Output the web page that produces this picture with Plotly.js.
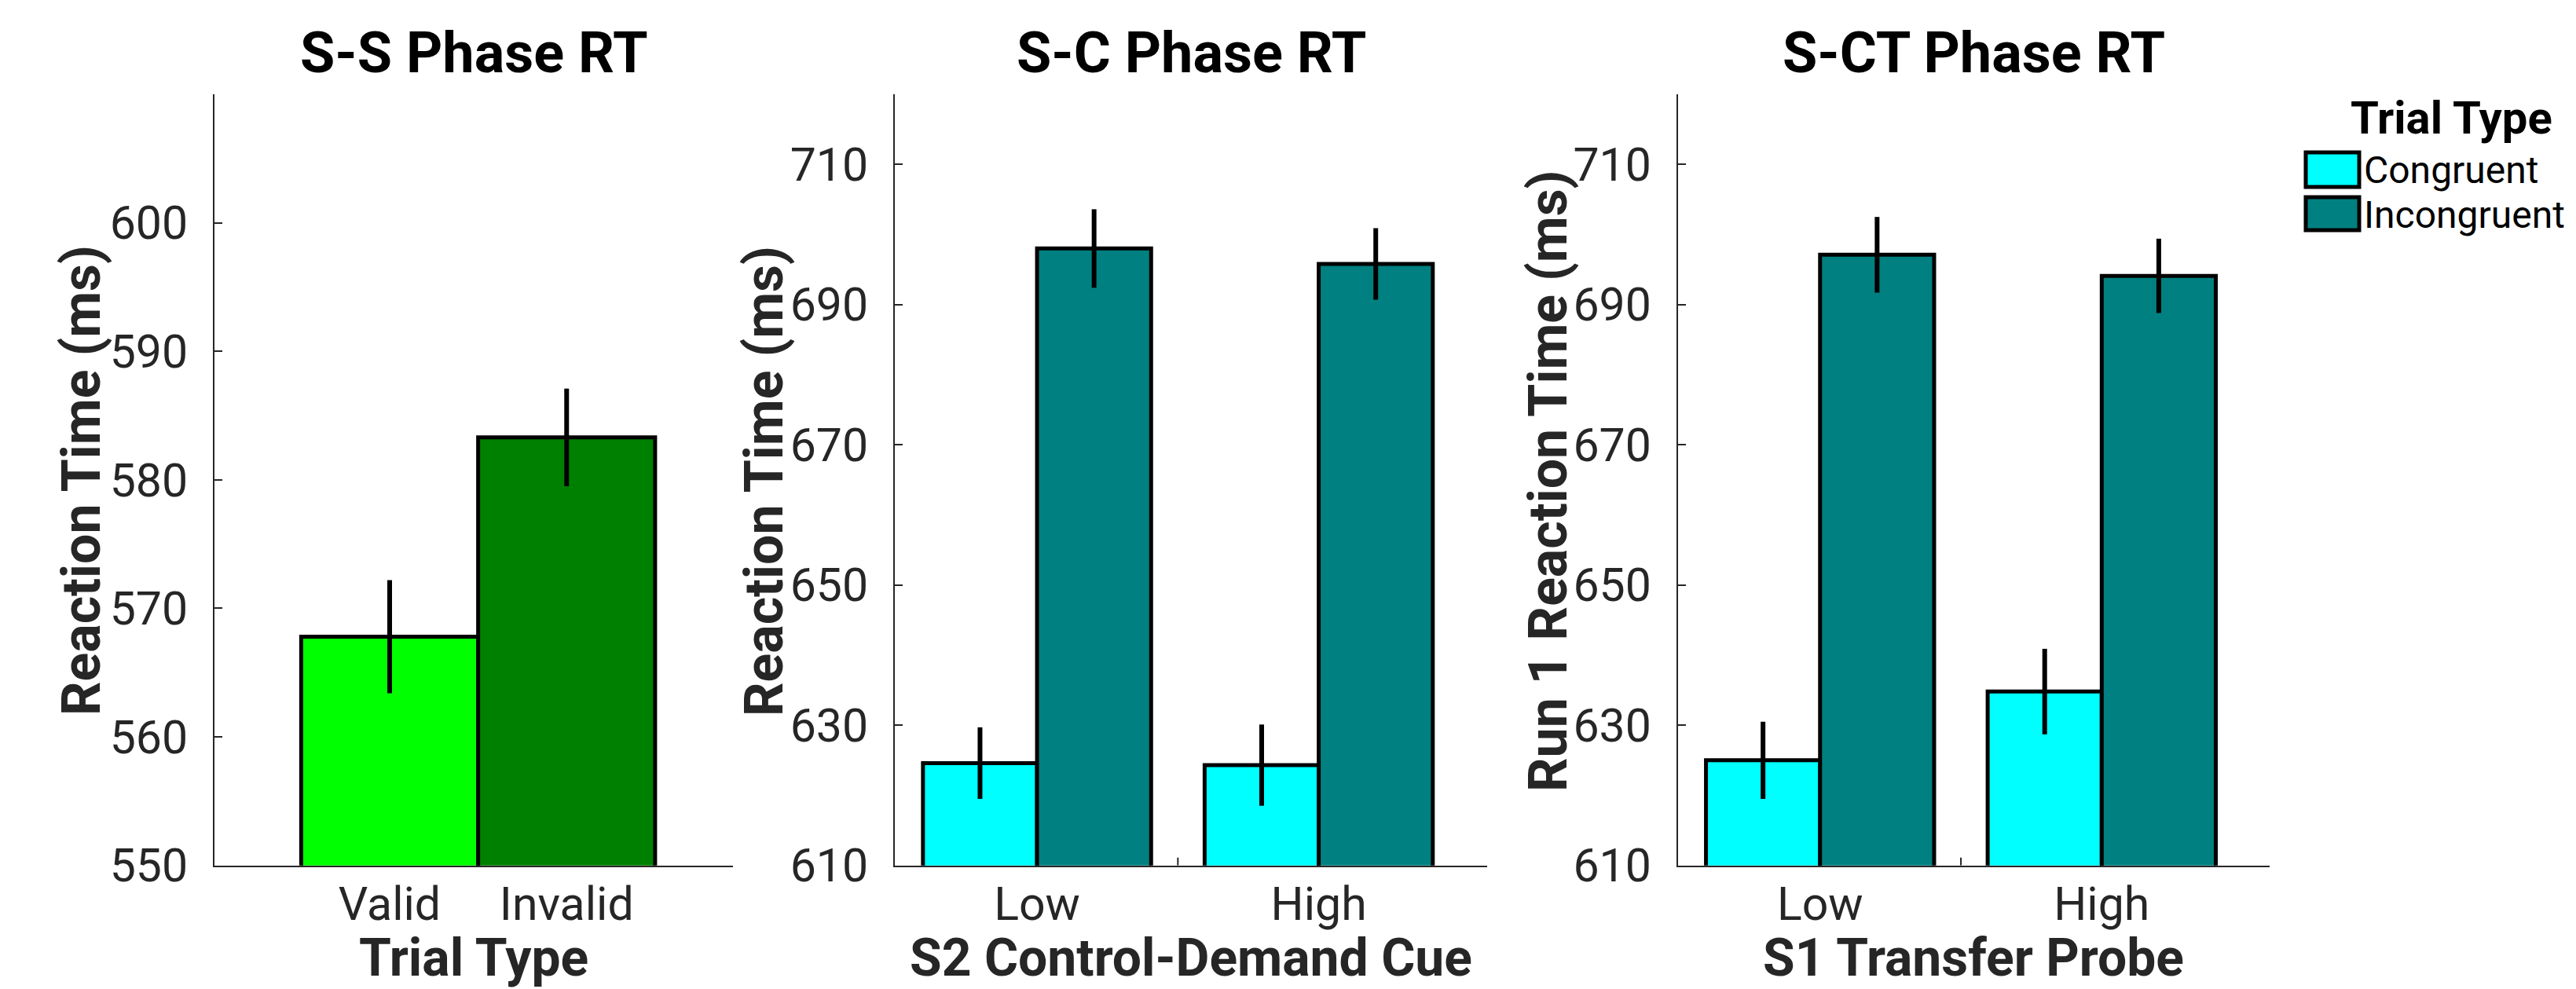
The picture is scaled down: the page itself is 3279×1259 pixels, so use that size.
<!DOCTYPE html>
<html><head><meta charset="utf-8">
<script src="https://cdn.plot.ly/plotly-3.0.1.min.js"></script>
<style>html,body{margin:0;padding:0;background:#fff;overflow:hidden}</style>
</head><body><div id="chart" style="width:3279px;height:1259px"></div>
<script>
// ---- data ----
const ssCategories = ['Valid', 'Invalid'];
const ssMeans = [567.8, 583.3];
const ssErrors = [4.4, 3.8];
const ssColors = ['#00FF00', '#008000'];
const ssTickVals = [550, 560, 570, 580, 590, 600];

const cueLevels = ['Low', 'High'];
const trialTypes = ['Congruent', 'Incongruent'];
const trialColors = ['#00FFFF', '#008080'];
const scCongruent = [624.6, 624.3];
const scCongruentErr = [5.1, 5.8];
const scIncongruent = [698.0, 695.8];
const scIncongruentErr = [5.6, 5.1];
const sctCongruent = [625.0, 634.8];
const sctCongruentErr = [5.5, 6.1];
const sctIncongruent = [697.1, 694.1];
const sctIncongruentErr = [5.4, 5.3];
const rtTickVals = [610, 630, 650, 670, 690, 710];

const panelTitles = ['S-S Phase RT', 'S-C Phase RT', 'S-CT Phase RT'];
const xTitles = ['Trial Type', 'S2 Control-Demand Cue', 'S1 Transfer Probe'];
const yTitles = ['Reaction Time (ms)', 'Reaction Time (ms)', 'Run 1 Reaction Time (ms)'];
const legendTitle = 'Trial Type';

// ---- layout helpers ----
const W = 3279, H = 1259;
const px = v => v / W, py = v => 1 - v / H;
const FONT = 'Roboto, "Liberation Sans", sans-serif';
const AX = '#262626';
const barLine = {color: '#000000', width: 5};
const err = arr => ({type: 'data', array: arr, visible: true, color: '#000000', thickness: 6, width: 0});
const BW = 0.405;

const traces = [
  {type: 'bar', x: ssCategories, y: ssMeans, error_y: err(ssErrors),
   marker: {color: ssColors, line: barLine}, width: 1, xaxis: 'x', yaxis: 'y', name: 'S-S'},
  {type: 'bar', x: cueLevels, y: scCongruent, error_y: err(scCongruentErr),
   marker: {color: trialColors[0], line: barLine}, width: BW, offset: -BW, xaxis: 'x2', yaxis: 'y2', name: trialTypes[0]},
  {type: 'bar', x: cueLevels, y: scIncongruent, error_y: err(scIncongruentErr),
   marker: {color: trialColors[1], line: barLine}, width: BW, offset: 0, xaxis: 'x2', yaxis: 'y2', name: trialTypes[1]},
  {type: 'bar', x: cueLevels, y: sctCongruent, error_y: err(sctCongruentErr),
   marker: {color: trialColors[0], line: barLine}, width: BW, offset: -BW, xaxis: 'x3', yaxis: 'y3', name: trialTypes[0]},
  {type: 'bar', x: cueLevels, y: sctIncongruent, error_y: err(sctIncongruentErr),
   marker: {color: trialColors[1], line: barLine}, width: BW, offset: 0, xaxis: 'x3', yaxis: 'y3', name: trialTypes[1]}
];

const tickFont = {family: FONT, size: 59, color: AX};
const xBase = {type: 'category', showline: true, linecolor: AX, linewidth: 2, showgrid: false, zeroline: false,
  ticks: '', tickfont: tickFont, fixedrange: true, ticklabelstandoff: -4};
const yBase = {showline: true, linecolor: AX, linewidth: 2, showgrid: false, zeroline: false,
  ticks: 'inside', ticklen: 10, tickwidth: 2, tickcolor: AX, tickfont: tickFont, fixedrange: true,
  ticklabelstandoff: 20};
const yDom = [py(1101.7), py(120)];

const xDomains = [[px(273), px(933)], [px(1139), px(1893)], [px(2135.7), px(2889)]];
const yTitleX = [104, 973, 1971];

const annBase = {showarrow: false, borderpad: 0, borderwidth: 0};
const annotations = [];
['x', 'x2', 'x3'].forEach((xa, i) => {
  annotations.push(Object.assign({}, annBase, {xref: xa + ' domain', x: 0.5, yref: 'paper', y: py(25),
    xanchor: 'center', yanchor: 'top', text: '<b>' + panelTitles[i] + '</b>',
    font: {family: FONT, size: 72, color: '#000000'}}));
  annotations.push(Object.assign({}, annBase, {xref: xa + ' domain', x: 0.5, yref: 'paper', y: py(1181),
    xanchor: 'center', yanchor: 'top', text: '<b>' + xTitles[i] + '</b>',
    font: {family: FONT, size: 66, color: AX}}));
  annotations.push(Object.assign({}, annBase, {xref: 'paper', x: px(yTitleX[i]), yref: 'paper', y: py(612),
    xanchor: 'center', yanchor: 'middle', textangle: -90, text: '<b>' + yTitles[i] + '</b>',
    font: {family: FONT, size: 68, color: AX}}));
});
// legend (drawn manually to match the original swatch size)
annotations.push(Object.assign({}, annBase, {xref: 'paper', x: px(3120), yref: 'paper', y: py(116),
  xanchor: 'center', yanchor: 'top', text: '<b>' + legendTitle + '</b>',
  font: {family: FONT, size: 58, color: '#000000'}}));
const legRows = [[194, 238], [251, 293]];
const legTextTop = [188, 245];
const shapes = [];
trialTypes.forEach((t, i) => {
  annotations.push(Object.assign({}, annBase, {xref: 'paper', x: px(3009), yref: 'paper', y: py(legTextTop[i]),
    xanchor: 'left', yanchor: 'top', text: t, font: {family: FONT, size: 48, color: '#000000'}}));
  shapes.push({type: 'rect', xref: 'paper', yref: 'paper', x0: px(2935), x1: px(3003),
    y0: py(legRows[i][1]), y1: py(legRows[i][0]), fillcolor: trialColors[i], line: {color: '#000000', width: 5}});
});
// small inner tick between the two groups (as in the original axes)
['x2', 'x3'].forEach((xa, i) => {
  shapes.push({type: 'line', xref: xa, yref: 'y' + (i + 2), x0: 0.5, x1: 0.5, ysizemode: 'pixel', yanchor: rtTickVals[0],
    y0: 0, y1: 10, line: {color: AX, width: 2}});
});

const layout = {
  width: W, height: H, margin: {l: 0, r: 0, t: 0, b: 0},
  paper_bgcolor: '#ffffff', plot_bgcolor: 'rgba(0,0,0,0)',
  showlegend: false, barmode: 'overlay',
  font: {family: FONT, color: AX},
  xaxis: Object.assign({}, xBase, {domain: xDomains[0], range: [-0.99, 1.94], anchor: 'y'}),
  yaxis: Object.assign({}, yBase, {domain: yDom, range: [550, 610], tickvals: ssTickVals, anchor: 'x'}),
  xaxis2: Object.assign({}, xBase, {domain: xDomains[1], range: [-0.505, 1.598], anchor: 'y2'}),
  yaxis2: Object.assign({}, yBase, {domain: yDom, range: [610, 720], tickvals: rtTickVals, anchor: 'x2'}),
  xaxis3: Object.assign({}, xBase, {domain: xDomains[2], range: [-0.505, 1.596], anchor: 'y3'}),
  yaxis3: Object.assign({}, yBase, {domain: yDom, range: [610, 720], tickvals: rtTickVals, anchor: 'x3'}),
  annotations: annotations,
  shapes: shapes
};

Plotly.newPlot('chart', traces, layout, {staticPlot: true, displayModeBar: false});
</script>
</body></html>
